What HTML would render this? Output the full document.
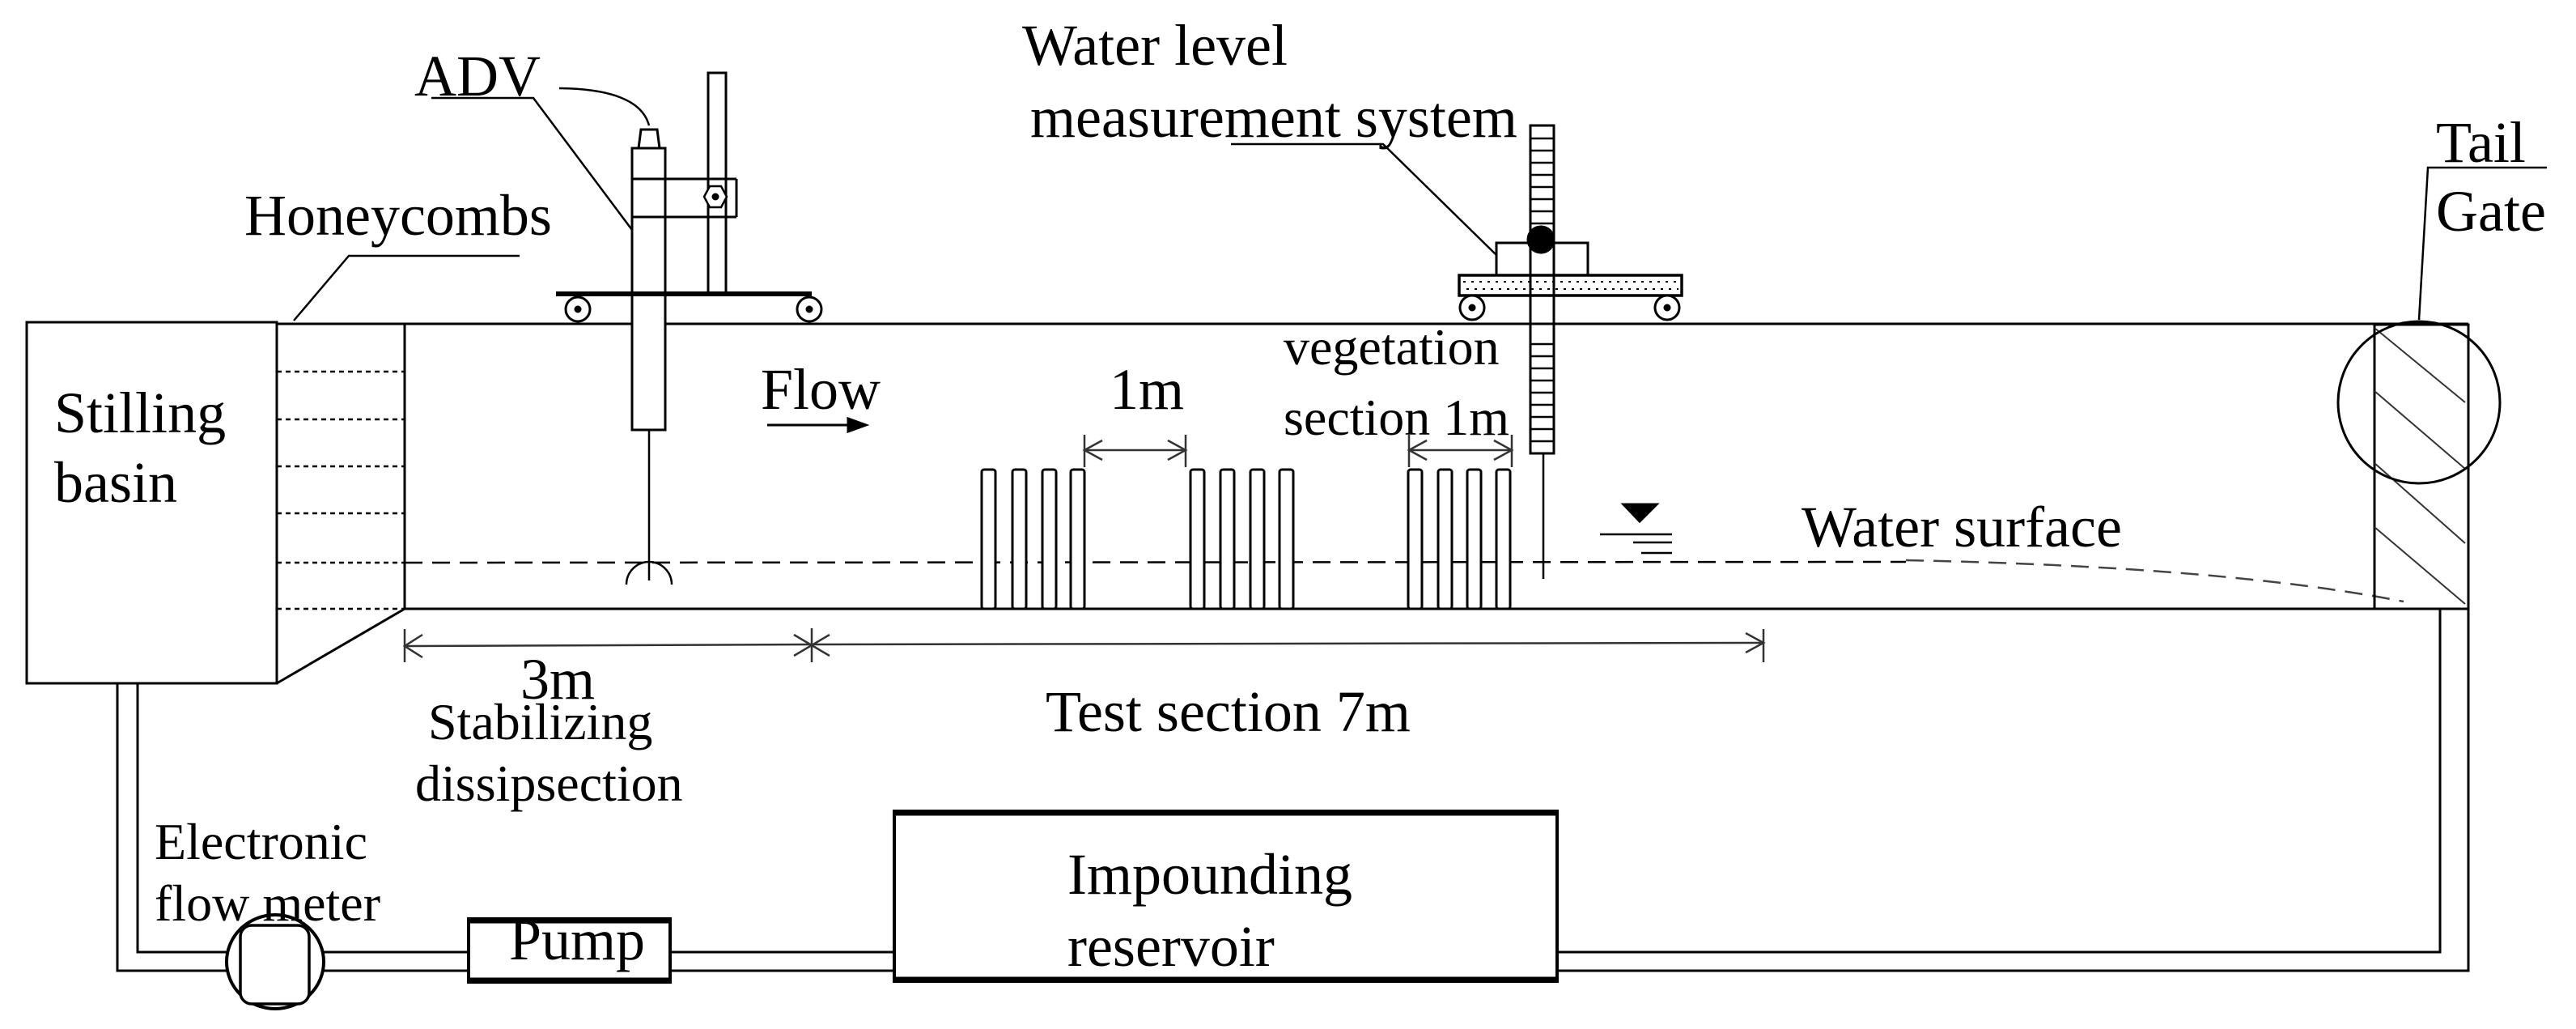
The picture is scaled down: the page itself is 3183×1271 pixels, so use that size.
<!DOCTYPE html>
<html><head><meta charset="utf-8"><style>
html,body{margin:0;padding:0;background:#fff}
svg{display:block}
text{font-family:"Liberation Serif",serif;fill:#000}
</style></head><body>
<svg width="3183" height="1271" viewBox="0 0 3183 1271" xmlns="http://www.w3.org/2000/svg">
<g fill="none" stroke="#000" stroke-width="3">
<!-- stilling basin -->
<rect x="33" y="398" width="309" height="446" fill="#fff"/>
<line x1="342" y1="400" x2="3050" y2="400"/>
<line x1="500" y1="400" x2="500" y2="752"/>
<line x1="500" y1="752" x2="342" y2="844"/>
<line x1="500" y1="752" x2="3050" y2="752"/>
<g stroke-dasharray="6 5" stroke-width="2.5">
<line x1="342" y1="459" x2="500" y2="459"/>
<line x1="342" y1="518" x2="500" y2="518"/>
<line x1="342" y1="576" x2="500" y2="576"/>
<line x1="342" y1="634" x2="500" y2="634"/>
<line x1="342" y1="695" x2="500" y2="695"/>
<line x1="342" y1="752" x2="500" y2="752"/>
</g>
<!-- water dashed -->
<line x1="500" y1="695" x2="2355" y2="694" stroke-dasharray="22 12" stroke-width="2.5"/>
<path d="M2355 692 Q2750 700 2970 743" stroke-dasharray="22 12" stroke-width="2.5" stroke="#444"/>
<!-- honeycomb leader -->
<polyline points="363,396 431,316 642,316" stroke-width="2.5"/>
<!-- ADV -->
<polyline points="533,121 659,121 781,284" stroke-width="2.5"/>
<path d="M691 109 Q790 110 802 155" stroke-width="2.5"/>
<path d="M789 183 L792 160 L812 160 L815 183 Z" fill="#fff"/>
<rect x="781" y="183" width="41" height="348" fill="#fff"/>
<rect x="875" y="90" width="22" height="273" fill="#fff"/>
<line x1="781" y1="221" x2="910" y2="221"/>
<line x1="781" y1="268" x2="910" y2="268"/>
<line x1="910" y1="221" x2="910" y2="268"/>
<polygon points="870,243 877,230 891,230 898,243 891,256 877,256" fill="#fff" stroke-width="2.5"/>
<circle cx="884" cy="243" r="3" fill="#000"/>
<line x1="687" y1="363" x2="1003" y2="363" stroke-width="6"/>
<circle cx="714" cy="382" r="15" fill="#fff"/><circle cx="714" cy="382" r="3" fill="#000"/>
<circle cx="1000" cy="382" r="15" fill="#fff"/><circle cx="1000" cy="382" r="3" fill="#000"/>
<line x1="802" y1="531" x2="802" y2="717" stroke-width="2.5"/>
<path d="M774 722 A28 28 0 0 1 830 722" stroke-width="2.5"/>
<!-- Flow arrow -->
<line x1="948" y1="525" x2="1055" y2="525"/>
<polygon points="1070,525 1048,517 1048,533" fill="#000"/>
<!-- water level system -->
<polyline points="1521,178 1709,178 1849,315" stroke-width="2.5"/>
<rect x="1849" y="300" width="113" height="40" fill="#fff"/>
<rect x="1803" y="340" width="275" height="25" fill="#fff" stroke-width="3.5"/>
<g stroke-dasharray="3 7" stroke-width="2"><line x1="1808" y1="348" x2="2074" y2="348"/><line x1="1812" y1="357" x2="2074" y2="357"/></g>
<circle cx="1819" cy="380" r="15" fill="#fff"/><circle cx="1819" cy="380" r="3" fill="#000"/>
<circle cx="2060" cy="380" r="15" fill="#fff"/><circle cx="2060" cy="380" r="3" fill="#000"/>
<rect x="1891" y="155" width="29" height="405" fill="none"/>
<g stroke-width="2.5">
<line x1="1891" y1="171" x2="1920" y2="171"/><line x1="1891" y1="186" x2="1920" y2="186"/><line x1="1891" y1="201" x2="1920" y2="201"/><line x1="1891" y1="216" x2="1920" y2="216"/><line x1="1891" y1="231" x2="1920" y2="231"/><line x1="1891" y1="246" x2="1920" y2="246"/><line x1="1891" y1="261" x2="1920" y2="261"/><line x1="1891" y1="276" x2="1920" y2="276"/>
<line x1="1891" y1="425" x2="1920" y2="425"/><line x1="1891" y1="440" x2="1920" y2="440"/><line x1="1891" y1="455" x2="1920" y2="455"/><line x1="1891" y1="470" x2="1920" y2="470"/><line x1="1891" y1="485" x2="1920" y2="485"/><line x1="1891" y1="500" x2="1920" y2="500"/><line x1="1891" y1="515" x2="1920" y2="515"/><line x1="1891" y1="530" x2="1920" y2="530"/><line x1="1891" y1="545" x2="1920" y2="545"/>
</g>
<circle cx="1904" cy="296" r="16" fill="#000"/>
<line x1="1907" y1="560" x2="1907" y2="715" stroke-width="2.5"/>
<!-- vegetation -->
<g fill="#fff" stroke-width="3">
<rect x="1213" y="580" width="17" height="172" rx="3"/><rect x="1251" y="580" width="17" height="172" rx="3"/><rect x="1288" y="580" width="17" height="172" rx="3"/><rect x="1323" y="580" width="17" height="172" rx="3"/>
<rect x="1471" y="580" width="17" height="172" rx="3"/><rect x="1508" y="580" width="17" height="172" rx="3"/><rect x="1545" y="580" width="17" height="172" rx="3"/><rect x="1581" y="580" width="17" height="172" rx="3"/>
<rect x="1740" y="580" width="17" height="172" rx="3"/><rect x="1777" y="580" width="17" height="172" rx="3"/><rect x="1813" y="580" width="17" height="172" rx="3"/><rect x="1849" y="580" width="17" height="172" rx="3"/>
</g>
<g stroke-width="2.5" stroke="#333">
<line x1="1340" y1="537" x2="1340" y2="577"/><line x1="1465" y1="537" x2="1465" y2="577"/>
<line x1="1340" y1="556" x2="1465" y2="556"/>
<polyline points="1362,544 1340,556 1362,568"/><polyline points="1443,544 1465,556 1443,568"/>
<line x1="1741" y1="537" x2="1741" y2="577"/><line x1="1868" y1="537" x2="1868" y2="577"/>
<line x1="1741" y1="556" x2="1868" y2="556"/>
<polyline points="1763,544 1741,556 1763,568"/><polyline points="1846,544 1868,556 1846,568"/>
</g>
<!-- water symbol -->
<polygon points="2006,623 2047,623 2026,644" fill="#000"/>
<line x1="1977" y1="660" x2="2066" y2="660" stroke-width="2.5"/>
<line x1="2018" y1="670" x2="2066" y2="670" stroke-width="2.5"/>
<line x1="2028" y1="683" x2="2066" y2="683" stroke-width="2.5"/>
<!-- dimension lines -->
<g stroke-width="2.5" stroke="#333">
<line x1="500" y1="777" x2="500" y2="818"/>
<line x1="500" y1="798" x2="1003" y2="796"/>
<polyline points="522,784 500,798 522,812"/>
<line x1="1003" y1="776" x2="1003" y2="818"/>
<polyline points="981,784 1003,797 981,810"/><polyline points="1025,784 1003,797 1025,810"/>
<line x1="1003" y1="796" x2="2179" y2="794"/>
<polyline points="2157,782 2179,794 2157,806"/>
<line x1="2179" y1="777" x2="2179" y2="818"/>
</g>
<!-- tail gate -->
<rect x="2934" y="401" width="116" height="351"/>
<g stroke-width="2" stroke="#333">
<line x1="2934" y1="405" x2="3046" y2="497"/><line x1="2934" y1="483" x2="3046" y2="579"/><line x1="2934" y1="572" x2="3046" y2="671"/><line x1="2934" y1="651" x2="3046" y2="746"/>
</g>
<circle cx="2989" cy="497" r="100"/>
<polyline points="2989,395 3000,207 3147,207" stroke-width="2.5"/>
<!-- return pipes -->
<polyline points="145,844 145,1199 3050,1199 3050,752"/>
<polyline points="170,844 170,1176 3015,1176 3015,752"/>
<!-- flow meter -->
<ellipse cx="340" cy="1188" rx="60" ry="58" fill="#fff" stroke-width="4"/>
<rect x="297" y="1143" width="85" height="97" rx="14" fill="#fff" stroke-width="3.5"/>
<!-- pump -->
<rect x="579" y="1135" width="249" height="78" fill="#fff" stroke-width="4"/>
<line x1="579" y1="1137" x2="828" y2="1137" stroke-width="7"/>
<line x1="579" y1="1211" x2="828" y2="1211" stroke-width="7"/>
<!-- reservoir -->
<rect x="1105" y="1002" width="819" height="210" fill="#fff" stroke-width="4"/>
<line x1="1105" y1="1004" x2="1924" y2="1004" stroke-width="7"/>
<line x1="1105" y1="1210" x2="1924" y2="1210" stroke-width="7"/>
</g>
<!-- text -->
<g font-size="72">
<text x="512" y="118">ADV</text>
<text x="302" y="290">Honeycombs</text>
<text x="67" y="534">Stilling</text>
<text x="67" y="620">basin</text>
<text x="940" y="505">Flow</text>
<text x="1263" y="80">Water level</text>
<text x="1273" y="169">measurement system</text>
<text x="1371" y="505">1m</text>
<text x="2226" y="675">Water surface</text>
<text x="3010" y="200">Tail</text>
<text x="3010" y="285">Gate</text>
<text x="643" y="863">3m</text>
<text x="1292" y="903">Test section 7m</text>
<text x="629" y="1185">Pump</text>
<text x="1319" y="1104">Impounding</text>
<text x="1319" y="1193">reservoir</text>
</g>
<g font-size="64">
<text x="1586" y="450">vegetation</text>
<text x="1586" y="537">section 1m</text>
<text x="529" y="913">Stabilizing</text>
<text x="513" y="989">dissipsection</text>
<text x="191" y="1061">Electronic</text>
<text x="191" y="1137">flow meter</text>
</g>
</svg>
</body></html>
